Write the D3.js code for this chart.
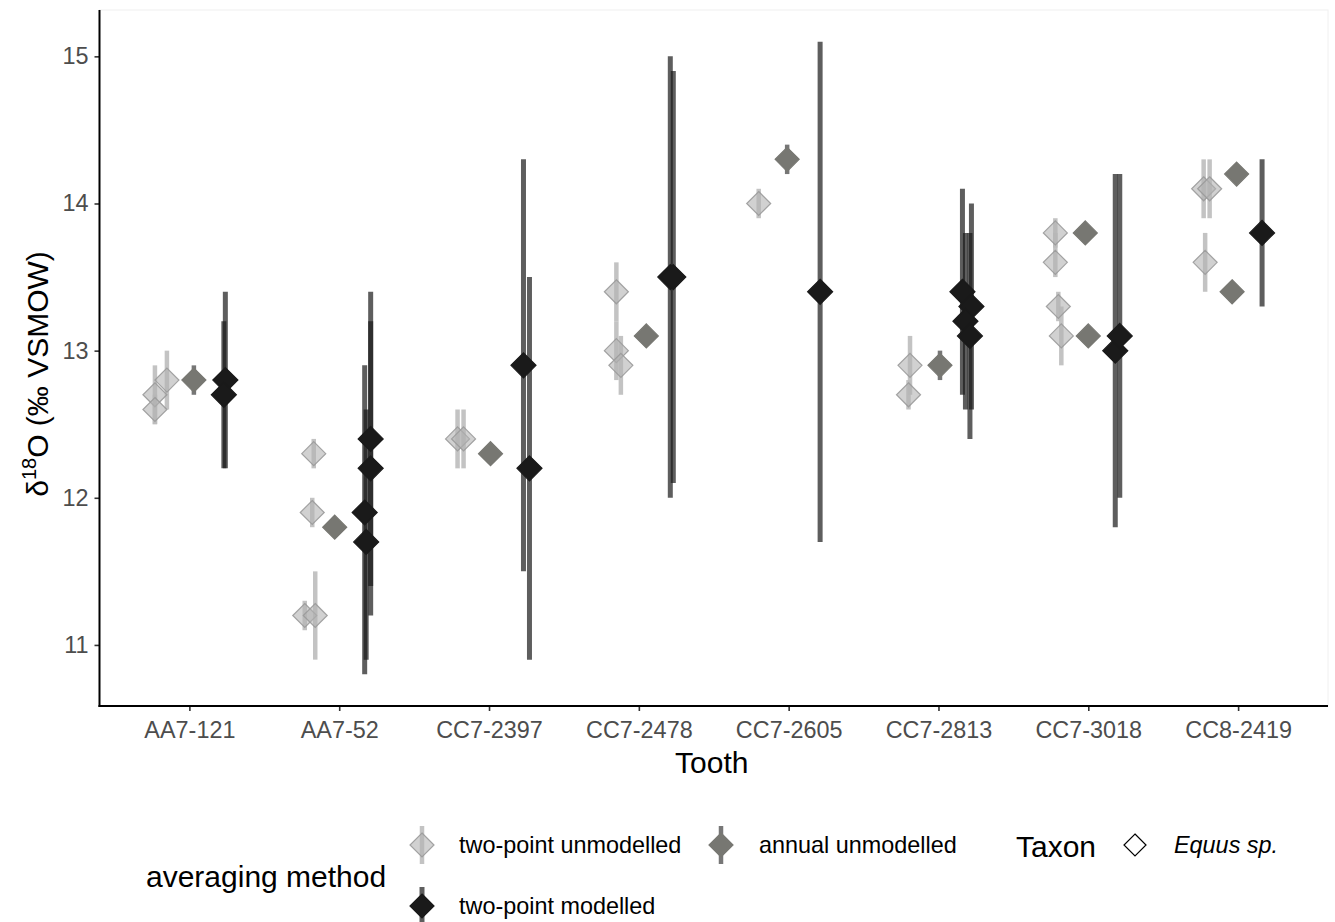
<!DOCTYPE html>
<html>
<head>
<meta charset="utf-8">
<script src="https://cdn.jsdelivr.net/npm/d3@7"></script>
<style>
  html, body { margin: 0; padding: 0; background: #fff; }
  svg { display: block; font-family: "Liberation Sans", Arial, sans-serif; }
</style>
</head>
<body>
<svg id="chart" width="1335" height="922"></svg>
<script>
// ---------- data ----------
const teeth = ["AA7-121","AA7-52","CC7-2397","CC7-2478","CC7-2605","CC7-2813","CC7-3018","CC8-2419"];
const methods = ["two-point unmodelled","annual unmodelled","two-point modelled"];
const yTicks = [11, 12, 13, 14, 15];
const taxa = ["Equus sp."];

// two-point unmodelled: tooth, mean, low, high, jitter offset (fraction of category step)
const twoPointUnmodelled = [
  ["AA7-121", 12.7, 12.5, 12.9, -0.23],
  ["AA7-121", 12.6, 12.5, 12.7, -0.23],
  ["AA7-121", 12.8, 12.6, 13.0, -0.15],
  ["AA7-52", 12.3, 12.2, 12.4, -0.17],
  ["AA7-52", 11.9, 11.8, 12.0, -0.18],
  ["AA7-52", 11.2, 11.1, 11.3, -0.23],
  ["AA7-52", 11.2, 10.9, 11.5, -0.16],
  ["CC7-2397", 12.4, 12.2, 12.6, -0.21],
  ["CC7-2397", 12.4, 12.2, 12.6, -0.17],
  ["CC7-2478", 13.4, 13.2, 13.6, -0.15],
  ["CC7-2478", 13.0, 12.8, 13.2, -0.15],
  ["CC7-2478", 12.9, 12.7, 13.1, -0.12],
  ["CC7-2605", 14.0, 13.9, 14.1, -0.20],
  ["CC7-2813", 12.9, 12.7, 13.1, -0.19],
  ["CC7-2813", 12.7, 12.6, 12.8, -0.20],
  ["CC7-3018", 13.8, 13.7, 13.9, -0.22],
  ["CC7-3018", 13.6, 13.5, 13.8, -0.22],
  ["CC7-3018", 13.3, 13.2, 13.4, -0.20],
  ["CC7-3018", 13.1, 12.9, 13.3, -0.18],
  ["CC8-2419", 14.1, 13.9, 14.3, -0.23],
  ["CC8-2419", 14.1, 13.9, 14.3, -0.19],
  ["CC8-2419", 13.6, 13.4, 13.8, -0.22]
];

const annualUnmodelled = [
  ["AA7-121", 12.8, 12.7, 12.9, 0.03],
  ["AA7-52", 11.8, 11.75, 11.85, -0.03],
  ["CC7-2397", 12.3, 12.25, 12.35, 0.01],
  ["CC7-2478", 13.1, 13.05, 13.15, 0.05],
  ["CC7-2605", 14.3, 14.2, 14.4, -0.01],
  ["CC7-2813", 12.9, 12.8, 13.0, 0.01],
  ["CC7-3018", 13.8, 13.75, 13.85, -0.02],
  ["CC7-3018", 13.1, 13.05, 13.15, 0.0],
  ["CC8-2419", 14.2, 14.15, 14.25, -0.01],
  ["CC8-2419", 13.4, 13.35, 13.45, -0.04]
];

const twoPointModelled = [
  ["AA7-121", 12.8, 12.2, 13.4, 0.24],
  ["AA7-121", 12.7, 12.2, 13.2, 0.23],
  ["AA7-52", 12.4, 11.2, 13.4, 0.21],
  ["AA7-52", 12.2, 11.4, 13.2, 0.21],
  ["AA7-52", 11.9, 10.8, 12.9, 0.17],
  ["AA7-52", 11.7, 10.9, 12.6, 0.18],
  ["CC7-2397", 12.9, 11.5, 14.3, 0.23],
  ["CC7-2397", 12.2, 10.9, 13.5, 0.27],
  ["CC7-2478", 13.5, 12.0, 15.0, 0.21],
  ["CC7-2478", 13.5, 12.1, 14.9, 0.23],
  ["CC7-2605", 13.4, 11.7, 15.1, 0.21],
  ["CC7-2813", 13.4, 12.7, 14.1, 0.16],
  ["CC7-2813", 13.3, 12.6, 14.0, 0.22],
  ["CC7-2813", 13.2, 12.6, 13.8, 0.18],
  ["CC7-2813", 13.1, 12.4, 13.8, 0.21],
  ["CC7-3018", 13.0, 11.8, 14.2, 0.18],
  ["CC7-3018", 13.1, 12.0, 14.2, 0.21],
  ["CC8-2419", 13.8, 13.3, 14.3, 0.16]
];

// ---------- styles ----------
const styles = {
  "two-point unmodelled": {bar: "#bdbdbd", barOp: 0.9, fill: "#b3b3b3", fillOp: 0.6, stroke: "#9a9a9a", strokeOp: 0.9, r: 12, bw: 4.5},
  "annual unmodelled":   {bar: "#777777", barOp: 1, fill: "#777772", fillOp: 1, stroke: "#777772", strokeOp: 1, r: 12, bw: 4.5},
  "two-point modelled":  {bar: "#1a1a1a", barOp: 0.7, fill: "#1a1a1a", fillOp: 1, stroke: "#1a1a1a", strokeOp: 1, r: 12.5, bw: 5}
};
const seriesByMethod = {
  "two-point unmodelled": twoPointUnmodelled,
  "annual unmodelled": annualUnmodelled,
  "two-point modelled": twoPointModelled
};

const TITLE_SIZE = 30;
const LABEL_SIZE = 23.4;

// ---------- layout ----------
const panel = {left: 99.5, right: 1328, top: 10, bottom: 706};
const svg = d3.select("#chart");

const x = d3.scalePoint().domain(teeth).range([panel.left, panel.right]).padding(0.6);
const y = d3.scaleLinear().domain([10.585, 15.315]).range([panel.bottom, panel.top]);

function diamondPath(r) {
  return `M0,${-r}L${r},0L0,${r}L${-r},0Z`;
}

// faint panel border (top / right)
svg.append("rect")
  .attr("x", panel.left).attr("y", panel.top)
  .attr("width", panel.right - panel.left).attr("height", panel.bottom - panel.top)
  .attr("fill", "none").attr("stroke", "#f0f0f0").attr("stroke-width", 1);

const plot = svg.append("g");

methods.forEach(m => {
  const st = styles[m];
  const data = seriesByMethod[m];
  const g = plot.append("g");
  g.selectAll("line").data(data).join("line")
    .attr("x1", d => x(d[0]) + d[4] * x.step())
    .attr("x2", d => x(d[0]) + d[4] * x.step())
    .attr("y1", d => y(d[2]))
    .attr("y2", d => y(d[3]))
    .attr("stroke", st.bar).attr("stroke-opacity", st.barOp)
    .attr("stroke-width", st.bw);
  g.selectAll("path").data(data).join("path")
    .attr("transform", d => `translate(${x(d[0]) + d[4] * x.step()},${y(d[1])})`)
    .attr("d", diamondPath(st.r))
    .attr("fill", st.fill).attr("fill-opacity", st.fillOp)
    .attr("stroke", st.stroke).attr("stroke-opacity", st.strokeOp).attr("stroke-width", 1.2);
});

// ---------- axes ----------
const yAxis = svg.append("g")
  .attr("transform", `translate(${panel.left},0)`)
  .call(d3.axisLeft(y).tickValues(yTicks).tickSize(5).tickPadding(6).tickFormat(d3.format("d")));
const xAxis = svg.append("g")
  .attr("transform", `translate(0,${panel.bottom})`)
  .call(d3.axisBottom(x).tickSize(5).tickPadding(6));

[yAxis, xAxis].forEach(a => {
  a.select(".domain").remove();
  a.selectAll(".tick line").attr("stroke", "#333333").attr("stroke-width", 1.6);
  a.selectAll(".tick text").attr("fill", "#4d4d4d").attr("font-size", LABEL_SIZE)
    .attr("font-family", "Liberation Sans, Arial, sans-serif");
});
xAxis.selectAll(".tick text").attr("dy", "0.9em");

// axis lines
svg.append("line").attr("x1", panel.left).attr("x2", panel.left)
  .attr("y1", panel.top).attr("y2", panel.bottom + 1)
  .attr("stroke", "#000").attr("stroke-width", 2);
svg.append("line").attr("x1", panel.left - 1).attr("x2", panel.right)
  .attr("y1", panel.bottom).attr("y2", panel.bottom)
  .attr("stroke", "#000").attr("stroke-width", 2);

// axis titles
svg.append("text")
  .attr("x", (panel.left + panel.right) / 2 - 2).attr("y", 762)
  .attr("dominant-baseline", "central")
  .attr("text-anchor", "middle").attr("font-size", TITLE_SIZE).attr("fill", "#000")
  .text("Tooth");

const yt = svg.append("text")
  .attr("transform", `translate(48,374) rotate(-90)`)
  .attr("text-anchor", "middle").attr("font-size", TITLE_SIZE).attr("fill", "#000");
yt.append("tspan").text("δ");
yt.append("tspan").attr("font-size", 20).attr("dy", -12).text("18");
yt.append("tspan").attr("dy", 12).text("O (‰ VSMOW)");

// ---------- legend ----------
const leg = svg.append("g");
leg.append("text").attr("x", 146).attr("y", 876).attr("dominant-baseline", "central")
  .attr("font-size", TITLE_SIZE).attr("fill", "#000").text("averaging method");

const legendItems = [
  {m: methods[0], kx: 422, ky: 845, tx: 459},
  {m: methods[1], kx: 721, ky: 845, tx: 759},
  {m: methods[2], kx: 422, ky: 906, tx: 459}
];
legendItems.forEach(it => {
  const st = styles[it.m];
  leg.append("line").attr("x1", it.kx).attr("x2", it.kx)
    .attr("y1", it.ky - 19).attr("y2", it.ky + 19)
    .attr("stroke", st.bar).attr("stroke-opacity", st.barOp).attr("stroke-width", st.bw);
  leg.append("path").attr("transform", `translate(${it.kx},${it.ky})`)
    .attr("d", diamondPath(12))
    .attr("fill", st.fill).attr("fill-opacity", st.fillOp)
    .attr("stroke", st.stroke).attr("stroke-opacity", st.strokeOp).attr("stroke-width", 1.2);
  leg.append("text").attr("x", it.tx).attr("y", it.ky).attr("dominant-baseline", "central")
    .attr("font-size", LABEL_SIZE).attr("fill", "#000").text(it.m);
});

leg.append("text").attr("x", 1016).attr("y", 846).attr("dominant-baseline", "central")
  .attr("font-size", TITLE_SIZE).attr("fill", "#000").text("Taxon");
leg.append("path").attr("transform", "translate(1135,845)")
  .attr("d", diamondPath(11)).attr("fill", "#fff").attr("stroke", "#000").attr("stroke-width", 1.2);
leg.append("text").attr("x", 1174).attr("y", 845).attr("dominant-baseline", "central")
  .attr("font-size", LABEL_SIZE).attr("font-style", "italic").attr("fill", "#000").text(taxa[0]);
</script>
</body>
</html>
